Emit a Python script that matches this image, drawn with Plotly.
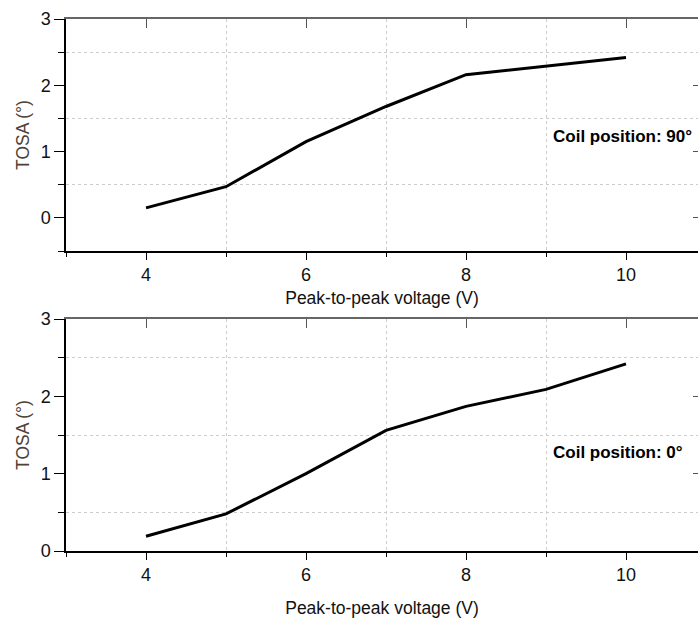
import plotly.graph_objects as go

voltage = [4, 5, 6, 7, 8, 9, 10]
tosa_90 = [0.15, 0.47, 1.15, 1.68, 2.16, 2.29, 2.42]
tosa_0 = [0.19, 0.48, 1.00, 1.56, 1.87, 2.09, 2.42]
x_ticks = [4, 6, 8, 10]
x_minor = [3, 5, 7, 9]
y_ticks = [0, 1, 2, 3]
y_minor = [-0.5, 0.5, 1.5, 2.5]
x_title = "Peak-to-peak voltage (V)"
y_title = "TOSA (°)"
label_90 = "<b>Coil position: 90°</b>"
label_0 = "<b>Coil position: 0°</b>"

FONT = "Liberation Sans, Arial, sans-serif"
W, H = 698, 618
L, R, T, B = 66, 0, 19, 67
XR = [3, 3 + (W - L - R) / 80.0]

fig = go.Figure()
fig.add_trace(go.Scatter(x=voltage, y=tosa_90, mode="lines",
                         line=dict(color="black", width=3), xaxis="x", yaxis="y",
                         showlegend=False))
fig.add_trace(go.Scatter(x=voltage, y=tosa_0, mode="lines",
                         line=dict(color="black", width=3), xaxis="x2", yaxis="y2",
                         showlegend=False))

grid = dict(showgrid=True, gridcolor="#cccccc", griddash="dot", gridwidth=1)

def xbottom(anchor, standoff):
    return dict(range=XR, anchor=anchor, tickvals=x_ticks, showgrid=False,
                showline=True, linecolor="black", linewidth=1.5,
                ticks="outside", ticklen=7, tickwidth=1.2, tickcolor="black",
                tickfont=dict(family=FONT, size=18, color="#111"),
                title=dict(text=x_title, font=dict(family=FONT, size=17.5, color="#111"),
                           standoff=standoff),
                minor=dict(tickvals=x_minor, ticks="outside", ticklen=4,
                           tickcolor="black", **grid),
                zeroline=False)

def yleft(anchor, rng, dom, mvals):
    return dict(range=rng, domain=dom, anchor=anchor, tickvals=y_ticks, showgrid=False,
                showline=True, linecolor="black", linewidth=1.5,
                ticks="outside", ticklen=10, tickwidth=1.2, tickcolor="black",
                tickfont=dict(family=FONT, size=18, color="#111"),
                title=dict(text=y_title, font=dict(family=FONT, size=17.5, color="#4e4136"),
                           standoff=7),
                minor=dict(tickvals=mvals, ticks="outside", ticklen=6,
                           tickcolor="black", **grid),
                zeroline=False)

def xtop(over, anchor):
    return dict(range=XR, overlaying=over, anchor=anchor, side="top",
                tickvals=x_ticks, showticklabels=False, showgrid=False,
                showline=True, linecolor="#666", linewidth=1.5,
                ticks="inside", ticklen=9, tickcolor="#555", tickwidth=1.2,
                zeroline=False)

def yright(over, anchor, rng):
    return dict(range=rng, overlaying=over, anchor=anchor, side="right",
                tickvals=y_ticks, showticklabels=False, showgrid=False,
                showline=True, linecolor="#666", linewidth=1.5,
                ticks="inside", ticklen=5, tickcolor="#555", tickwidth=1.2,
                zeroline=False)

ph = H - T - B
top_dom = [(H - B - 251) / ph, 1.0]
bot_dom = [0.0, (H - B - 319) / ph]

fig.update_layout(
    width=W, height=H,
    margin=dict(l=L, r=R, t=T, b=B),
    paper_bgcolor="white", plot_bgcolor="white",
    font=dict(family=FONT, size=17, color="#111"),
    xaxis=xbottom("y", 7),
    yaxis=yleft("x", [-0.5, 3], top_dom, y_minor),
    xaxis2=xbottom("y2", 17),
    yaxis2=yleft("x2", [0, 3], bot_dom, [v for v in y_minor if v > 0]),
    xaxis3=xtop("x", "y"),
    yaxis3=yright("y", "x", [-0.5, 3]),
    xaxis4=xtop("x2", "y2"),
    yaxis4=yright("y2", "x2", [0, 3]),
    annotations=[
        dict(text=label_90, x=9.06, y=1.23, xref="x", yref="y", xanchor="left",
             yanchor="middle", showarrow=False,
             font=dict(family=FONT, size=17, color="black")),
        dict(text=label_0, x=9.06, y=1.28, xref="x2", yref="y2", xanchor="left",
             yanchor="middle", showarrow=False,
             font=dict(family=FONT, size=17, color="black")),
    ],
)

# dummy traces so overlay axes render
fig.add_trace(go.Scatter(x=[None], y=[None], xaxis="x3", yaxis="y3", showlegend=False))
fig.add_trace(go.Scatter(x=[None], y=[None], xaxis="x4", yaxis="y4", showlegend=False))

fig.write_html("out.html")
